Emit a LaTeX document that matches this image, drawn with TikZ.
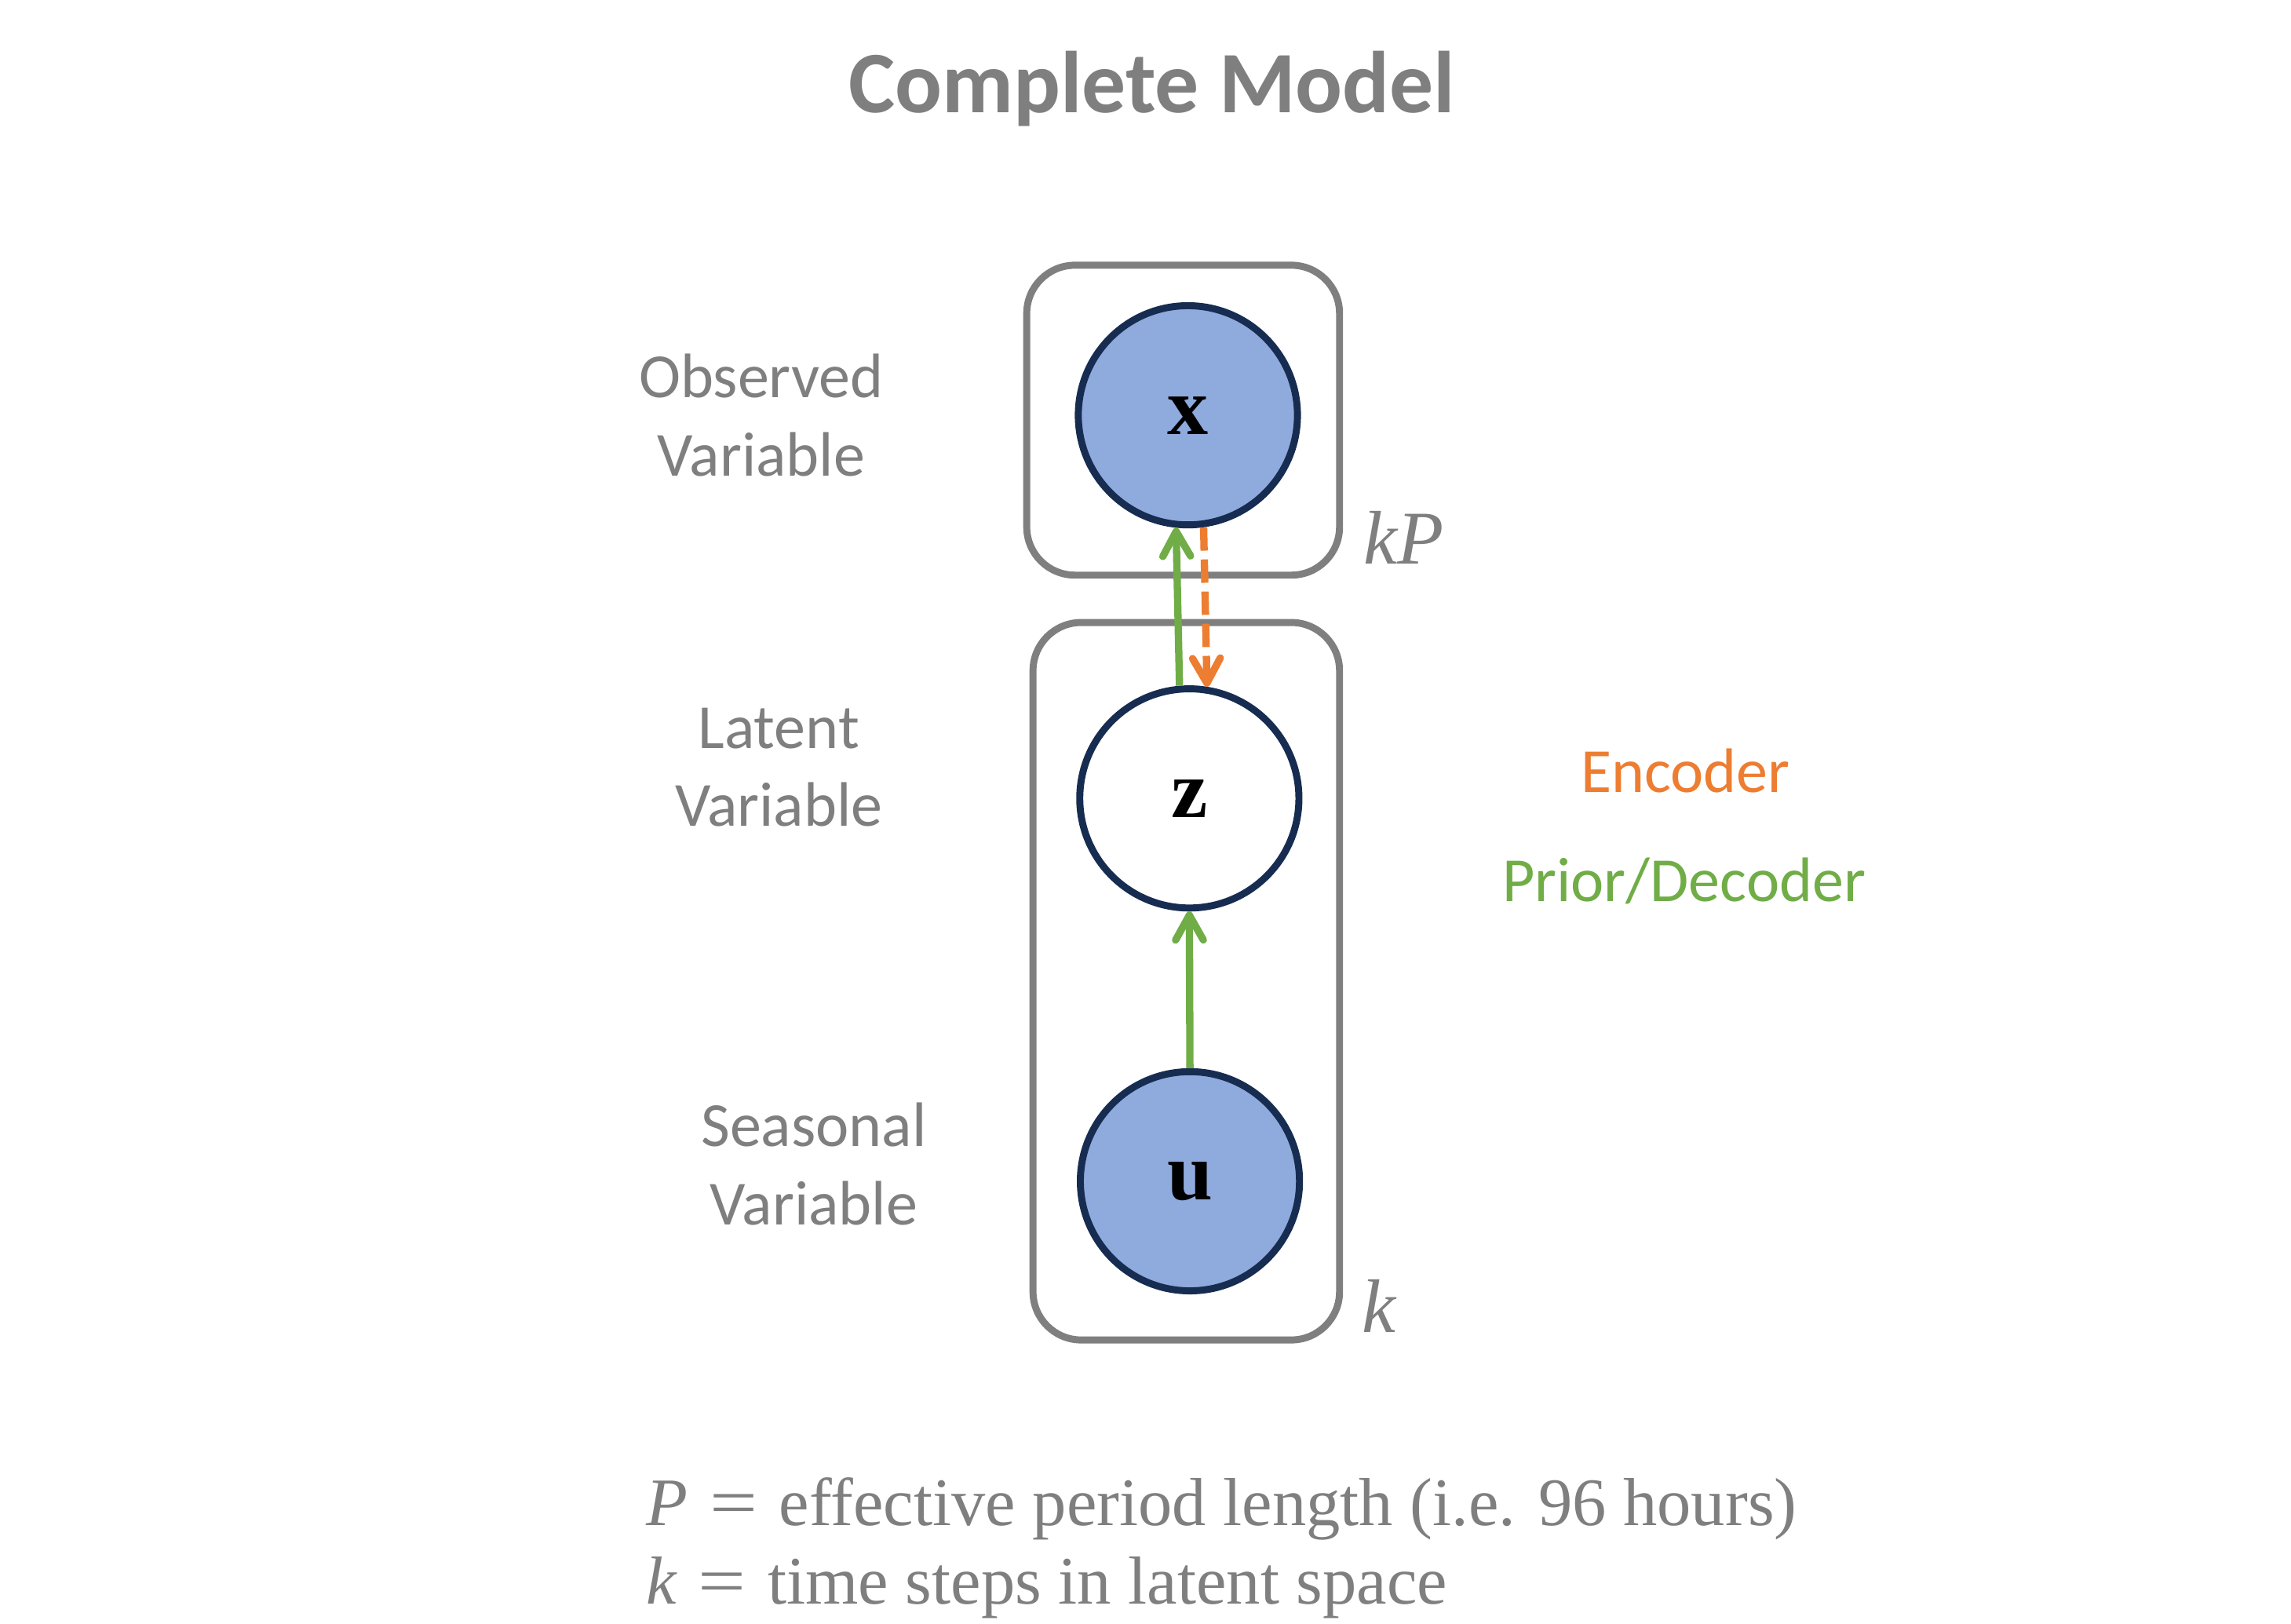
\documentclass[tikz,border=0pt]{standalone}
\usepackage{fontspec}
\setmainfont{Liberation Serif}
\newfontfamily\carl{Carlito}
\usetikzlibrary{arrows.meta}
\definecolor{txtgray}{HTML}{7F7F7F}
\definecolor{plategray}{HTML}{7F7F7F}
\definecolor{obsblue}{HTML}{8FAADC}
\definecolor{navyline}{HTML}{172C51}
\definecolor{decgreen}{HTML}{70AD47}
\definecolor{encorange}{HTML}{ED7D31}
\newcommand{\wideeq}{\kern15pt\scalebox{1.25}[1]{=}\kern15pt}
\begin{document}
\begin{tikzpicture}[x=1pt,y=-1pt,
  plate/.style={draw=plategray, line width=4.8pt, rounded corners=33pt},
  varnode/.style={circle, draw=navyline, line width=4.8pt, minimum size=150pt, inner sep=0pt,
    font=\fontsize{56}{60}\selectfont\bfseries},
  obsnode/.style={varnode, fill=obsblue},
  latnode/.style={varnode, fill=white},
  lbl/.style={font=\carl\fontsize{43}{53.3}\selectfont, text=txtgray, align=center, inner sep=0pt},
  platelbl/.style={font=\fontsize{52}{56}\selectfont\itshape, text=txtgray, inner sep=0pt, anchor=base west},
  legendtxt/.style={font=\fontsize{46.5}{52}\selectfont, text=txtgray, inner sep=0pt, anchor=base west},
  tip/.style={-{Straight Barb[length=17pt,width=19pt,round]}},
  decarrow/.style={draw=decgreen, line width=5pt, tip},
  encarrow/.style={draw=encorange, line width=5pt, tip, dash pattern=on 16pt off 6pt}
]
\useasboundingbox (0,0) rectangle (1568,1111);

% title
\node[font=\carl\bfseries\fontsize{60}{66}\selectfont, text=txtgray, anchor=base, inner sep=0pt] (title) at (788.5,77) {Complete Model};

% plates
\draw[plate] (702.7,181.5) rectangle (916.8,393.6);
\draw[plate] (707,426) rectangle (916.8,917);

% variables
\node[obsnode] (X) at (813,284.2) {x};
\node[latnode] (Z) at (814,546.4) {z};
\node[obsnode] (U) at (814.4,808.4) {u};

% connectors
\draw[decarrow] (Z.95.4) -- (X.-96.1);
\draw[encarrow] (X.-82.6) -- (Z.81.9);
\draw[decarrow] (U.north) -- (Z.south);

% plate labels
\node[platelbl] (kP) at (933,386) {kP};
\node[platelbl] (k) at (932,912) {k};

% left labels (anchor base = baseline of the last line)
\node[lbl, anchor=base] (obs) at (521,325.6) {Observed\\Variable};
\node[lbl, anchor=base] (lat) at (533,565.3) {Latent\\Variable};
\node[lbl, anchor=base] (sea) at (557,838) {Seasonal\\Variable};

% legend
\node[lbl, anchor=base, text=encorange] (enc) at (1153.5,542.5) {Encoder};
\node[lbl, anchor=base, text=decgreen] (dec) at (1152.5,616.7) {Prior/Decoder};

% bottom notes
\node[legendtxt] (noteP) at (442,1043.9) {{\itshape P}\wideeq effective period length (i.e. 96 hours)};
\node[legendtxt] (notek) at (442,1097.6) {{\itshape k}\wideeq time steps in latent space};
\end{tikzpicture}
\end{document}
